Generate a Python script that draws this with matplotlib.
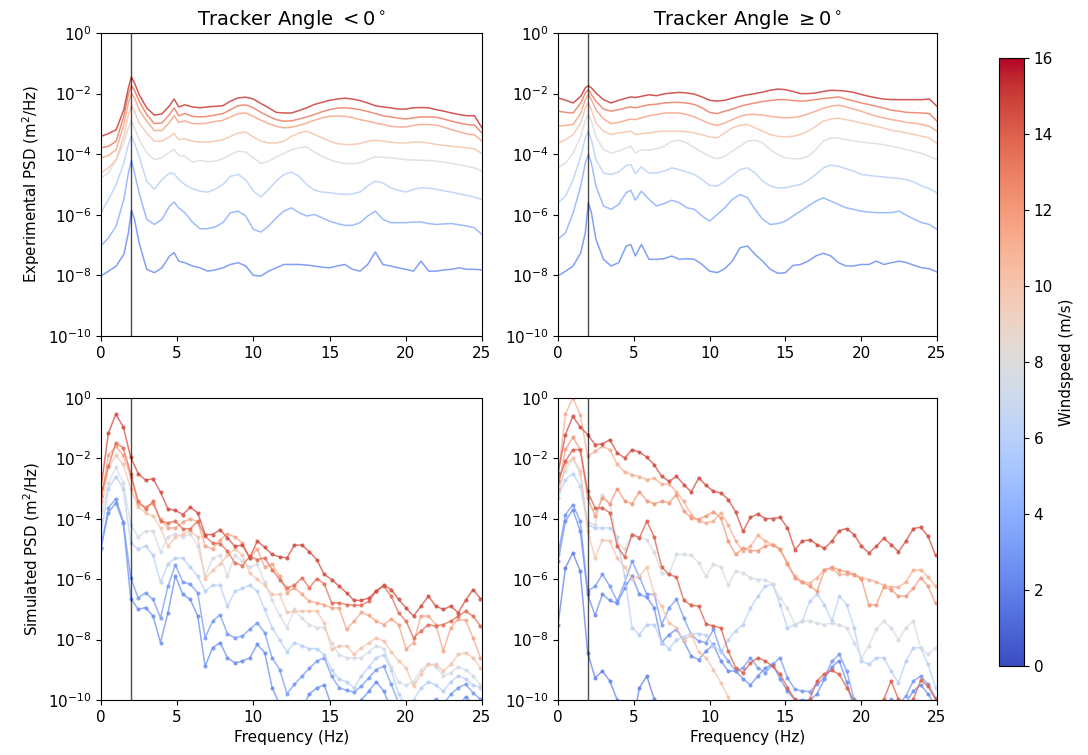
import matplotlib.pyplot as plt
import matplotlib as mpl
import numpy as np

# frequency grids (Hz)
f_exp = [0, 0.5, 1, 1.5, 1.8, 2, 2.2, 2.5, 3, 3.5, 4, 4.5, 4.8, 5.1, 5.5] + list(np.arange(6, 25.5, 0.5))
f_sim = np.arange(52) * 0.48828

# windspeed (m/s) of each curve
ws_exp = [15, 13, 11.5, 10, 8, 6, 4, 2.5]
ws_sim_neg = [14.5, 13.5, 11.5, 10, 7.5, 6, 3, 2.5]
ws_sim_pos = [14.5, 14, 11, 12, 10, 7.5, 6, 3, 2.5, 2]

# experimental PSD, log10(m^2/Hz), tracker angle < 0
exp_neg_15 = [-3.41, -3.32, -3.19, -2.53, -1.81, -1.45, -1.65, -2.03, -2.47, -2.71, -2.67, -2.40, -2.18, -2.44, -2.37,
              -2.44, -2.47, -2.44, -2.42, -2.40, -2.25, -2.14, -2.12, -2.18, -2.33, -2.47, -2.62, -2.64, -2.64, -2.56,
              -2.47, -2.36, -2.29, -2.22, -2.18, -2.15, -2.18, -2.23, -2.31, -2.40, -2.44, -2.47, -2.51, -2.51, -2.47,
              -2.46, -2.47, -2.53, -2.58, -2.64, -2.69, -2.73, -2.73, -3.13]
exp_neg_13 = [-3.79, -3.74, -3.57, -2.75, -2.03, -1.74, -1.89, -2.25, -2.69, -2.99, -2.97, -2.69, -2.47, -2.73, -2.66,
              -2.75, -2.77, -2.75, -2.71, -2.66, -2.53, -2.40, -2.37, -2.47, -2.62, -2.75, -2.86, -2.91, -2.90, -2.84,
              -2.77, -2.69, -2.60, -2.53, -2.48, -2.47, -2.49, -2.53, -2.59, -2.66, -2.73, -2.77, -2.81, -2.84, -2.80,
              -2.77, -2.77, -2.78, -2.84, -2.91, -2.97, -3.02, -3.04, -3.30]
exp_neg_11 = [-4.12, -4.04, -3.85, -3.02, -2.31, -2.01, -2.14, -2.53, -2.91, -3.22, -3.22, -2.95, -2.73, -2.95, -2.90,
              -2.99, -3.00, -2.97, -2.92, -2.88, -2.77, -2.66, -2.64, -2.75, -2.88, -2.99, -3.08, -3.13, -3.11, -3.05,
              -2.97, -2.88, -2.80, -2.75, -2.74, -2.75, -2.79, -2.86, -2.91, -2.97, -3.02, -3.08, -3.10, -3.10, -3.05,
              -3.02, -3.02, -3.04, -3.11, -3.19, -3.26, -3.33, -3.36, -3.57]
exp_neg_10 = [-4.62, -4.45, -4.18, -3.41, -2.69, -2.40, -2.58, -2.97, -3.30, -3.57, -3.57, -3.43, -3.32, -3.52, -3.49,
              -3.57, -3.60, -3.60, -3.57, -3.52, -3.41, -3.30, -3.27, -3.43, -3.57, -3.63, -3.63, -3.57, -3.41, -3.30,
              -3.24, -3.35, -3.46, -3.57, -3.65, -3.68, -3.68, -3.65, -3.57, -3.54, -3.57, -3.60, -3.63, -3.63, -3.60,
              -3.60, -3.63, -3.68, -3.71, -3.74, -3.76, -3.79, -3.82, -3.98]
exp_neg_8 = [-4.78, -4.62, -4.18, -3.63, -3.13, -2.91, -3.13, -3.52, -3.96, -4.18, -4.12, -3.93, -3.85, -4.04, -4.07,
             -4.26, -4.20, -4.25, -4.23, -4.15, -4.01, -3.90, -3.93, -4.12, -4.31, -4.23, -4.09, -3.98, -3.85, -3.79,
             -3.76, -3.93, -4.07, -4.18, -4.26, -4.31, -4.31, -4.29, -4.18, -4.09, -4.10, -4.12, -4.15, -4.18, -4.19,
             -4.20, -4.21, -4.23, -4.26, -4.31, -4.35, -4.40, -4.45, -4.56]
exp_neg_6 = [-5.93, -5.49, -5.00, -4.29, -3.68, -3.41, -3.63, -4.07, -4.89, -5.16, -4.84, -4.62, -4.64, -4.84, -5.00,
             -5.14, -5.22, -5.25, -5.16, -5.00, -4.73, -4.67, -4.84, -5.22, -5.41, -5.16, -4.89, -4.67, -4.59, -4.73,
             -5.00, -5.19, -5.25, -5.27, -5.31, -5.33, -5.31, -5.25, -5.05, -4.89, -4.95, -5.11, -5.19, -5.25, -5.16,
             -5.11, -5.12, -5.16, -5.21, -5.25, -5.31, -5.36, -5.42, -5.49]
exp_neg_4 = [-7.03, -6.76, -6.37, -5.49, -4.62, -4.20, -4.62, -5.27, -6.15, -6.32, -6.15, -5.71, -5.58, -5.77, -5.93,
             -6.24, -6.46, -6.46, -6.40, -6.26, -5.93, -5.88, -6.04, -6.48, -6.57, -6.37, -6.10, -5.88, -5.77, -5.93,
             -6.04, -5.99, -6.10, -6.21, -6.29, -6.35, -6.35, -6.26, -6.04, -5.88, -6.15, -6.26, -6.26, -6.26, -6.24,
             -6.24, -6.29, -6.32, -6.30, -6.29, -6.33, -6.37, -6.43, -6.65]
exp_neg_3 = [-8.02, -7.86, -7.69, -7.31, -6.59, -5.85, -6.15, -6.92, -7.80, -7.91, -7.75, -7.36, -7.25, -7.53, -7.58,
             -7.69, -7.75, -7.86, -7.82, -7.75, -7.64, -7.58, -7.69, -8.00, -8.02, -7.86, -7.75, -7.64, -7.64, -7.64,
             -7.66, -7.69, -7.73, -7.75, -7.69, -7.64, -7.80, -7.86, -7.64, -7.23, -7.64, -7.69, -7.75, -7.80, -7.86,
             -7.53, -7.86, -7.86, -7.82, -7.80, -7.75, -7.80, -7.80, -7.82]

# experimental PSD, log10(m^2/Hz), tracker angle >= 0
exp_pos_15 = [-2.14, -2.22, -2.31, -2.09, -1.81, -1.74, -1.81, -1.98, -2.20, -2.31, -2.22, -2.15, -2.11, -2.13, -2.09,
              -2.04, -2.07, -2.01, -1.98, -1.96, -1.98, -2.02, -2.11, -2.22, -2.25, -2.22, -2.15, -2.09, -2.04, -2.00,
              -1.95, -1.89, -1.85, -1.87, -1.93, -2.00, -2.00, -1.98, -1.93, -1.89, -1.90, -1.92, -1.96, -2.03, -2.09,
              -2.14, -2.18, -2.20, -2.20, -2.20, -2.20, -2.20, -2.18, -2.42]
exp_pos_13 = [-2.58, -2.62, -2.64, -2.31, -1.98, -1.87, -2.03, -2.25, -2.51, -2.58, -2.53, -2.47, -2.44, -2.47, -2.42,
              -2.37, -2.35, -2.31, -2.29, -2.29, -2.31, -2.36, -2.47, -2.62, -2.66, -2.58, -2.51, -2.42, -2.36, -2.31,
              -2.26, -2.23, -2.20, -2.20, -2.23, -2.25, -2.23, -2.20, -2.16, -2.14, -2.11, -2.18, -2.24, -2.31, -2.36,
              -2.42, -2.48, -2.55, -2.58, -2.62, -2.63, -2.64, -2.66, -2.91]
exp_pos_11 = [-3.08, -3.05, -3.02, -2.64, -2.20, -2.03, -2.20, -2.53, -2.84, -2.99, -2.95, -2.88, -2.84, -2.86, -2.80,
              -2.73, -2.69, -2.64, -2.64, -2.64, -2.69, -2.77, -2.88, -2.99, -3.05, -2.97, -2.86, -2.75, -2.69, -2.69,
              -2.71, -2.75, -2.78, -2.80, -2.79, -2.75, -2.67, -2.58, -2.48, -2.42, -2.38, -2.44, -2.51, -2.58, -2.67,
              -2.75, -2.80, -2.86, -2.90, -2.95, -2.98, -3.02, -3.08, -3.24]
exp_pos_10 = [-3.63, -3.52, -3.35, -2.97, -2.47, -2.31, -2.53, -2.97, -3.24, -3.35, -3.30, -3.26, -3.24, -3.35, -3.32,
              -3.30, -3.26, -3.24, -3.24, -3.24, -3.26, -3.30, -3.36, -3.43, -3.46, -3.30, -3.13, -3.05, -3.02, -3.13,
              -3.24, -3.35, -3.41, -3.43, -3.41, -3.35, -3.24, -3.08, -2.91, -2.84, -2.81, -2.86, -2.91, -2.97, -3.02,
              -3.08, -3.14, -3.21, -3.25, -3.30, -3.35, -3.41, -3.46, -3.65]
exp_pos_8 = [-4.45, -4.29, -3.96, -3.41, -2.88, -2.69, -2.91, -3.41, -3.85, -3.96, -3.90, -3.79, -3.74, -3.96, -3.85,
             -3.87, -3.82, -3.74, -3.57, -3.54, -3.63, -3.79, -3.93, -4.07, -4.15, -4.07, -3.90, -3.74, -3.57, -3.54,
             -3.63, -3.85, -4.01, -4.12, -4.15, -4.15, -4.07, -3.85, -3.57, -3.46, -3.47, -3.52, -3.56, -3.60, -3.63,
             -3.65, -3.69, -3.74, -3.79, -3.85, -3.91, -3.98, -4.07, -4.18]
exp_pos_6 = [-5.60, -5.38, -4.84, -4.07, -3.46, -3.24, -3.52, -4.18, -4.62, -4.67, -4.59, -4.37, -4.34, -4.64, -4.42,
             -4.62, -4.62, -4.56, -4.45, -4.51, -4.59, -4.67, -4.84, -5.03, -5.05, -4.89, -4.70, -4.51, -4.45, -4.62,
             -4.89, -5.05, -5.11, -5.11, -5.05, -5.00, -4.86, -4.67, -4.45, -4.36, -4.40, -4.48, -4.56, -4.67, -4.70,
             -4.73, -4.75, -4.78, -4.80, -4.84, -4.92, -5.05, -5.14, -5.27]
exp_pos_4 = [-6.81, -6.59, -5.93, -5.05, -4.29, -4.01, -4.29, -5.05, -5.71, -5.82, -5.66, -5.27, -5.19, -5.52, -5.22,
             -5.49, -5.71, -5.63, -5.52, -5.60, -5.77, -5.82, -6.04, -6.21, -5.99, -5.77, -5.49, -5.33, -5.44, -5.82,
             -6.15, -6.32, -6.29, -6.21, -6.04, -5.88, -5.71, -5.55, -5.44, -5.55, -5.66, -5.77, -5.82, -5.88, -5.91,
             -5.93, -5.93, -5.93, -5.88, -6.02, -6.15, -6.26, -6.32, -6.48]
exp_pos_3 = [-8.02, -7.86, -7.69, -7.25, -6.59, -5.60, -5.93, -6.81, -7.47, -7.69, -7.58, -7.03, -6.98, -7.36, -6.98,
             -7.47, -7.47, -7.45, -7.36, -7.47, -7.45, -7.47, -7.64, -7.86, -7.91, -7.78, -7.53, -7.09, -7.03, -7.31,
             -7.53, -7.80, -7.93, -7.91, -7.67, -7.64, -7.53, -7.36, -7.27, -7.36, -7.58, -7.69, -7.69, -7.64, -7.64,
             -7.53, -7.64, -7.58, -7.53, -7.58, -7.67, -7.75, -7.78, -7.89]

# simulated PSD, log10(m^2/Hz), tracker angle < 0
sim_neg_15 = [-2.98, -1.16, -0.53, -0.96, -1.96, -2.50, -2.72, -2.67, -3.12, -3.67, -3.72, -3.86, -3.62, -3.80,
              -4.52, -4.52, -4.36, -4.63, -4.91, -4.87, -5.29, -4.74, -4.94, -5.18, -5.26, -5.29, -4.87,
              -4.87, -5.09, -5.35, -5.84, -6.01, -6.23, -6.45, -6.70, -6.70, -6.62, -6.39, -6.20, -6.34,
              -6.67, -6.95, -7.22, -6.89, -6.56, -6.89, -7.00, -6.89, -7.11, -6.70, -6.34, -6.64]
sim_neg_13 = [-3.25, -2.26, -1.49, -1.65, -2.50, -3.42, -3.67, -3.42, -4.08, -4.13, -4.08, -4.33, -4.33, -4.08,
              -4.58, -4.80, -4.82, -5.07, -5.46, -5.55, -5.24, -5.35, -5.29, -5.68, -6.01, -6.28, -6.20,
              -5.95, -6.28, -5.98, -6.15, -6.78, -6.78, -6.84, -6.86, -6.86, -6.73, -6.39, -6.23, -6.56,
              -7.11, -7.39, -7.94, -7.72, -7.50, -7.55, -7.50, -7.39, -7.22, -7.06, -7.22, -7.55]
sim_neg_11 = [-3.4, -1.9, -1.6, -1.9, -2.6, -3.5, -3.6, -3.5, -4.0, -4.3, -4.3, -4.1, -4.0, -4.1,
              -4.9, -5.0, -4.7, -4.5, -4.6, -4.8, -5.3, -5.0, -5.6, -5.5, -5.9, -6.45, -6.28,
              -6.5, -6.73, -6.78, -6.84, -6.95, -6.95, -7.66, -7.39, -7.1, -7.2, -7.39, -7.5, -7.33,
              -7.5, -8.32, -8.1, -7.22, -7.22, -7.5, -8.38, -7.6, -7.33, -7.36, -7.94, -8.6]
sim_neg_10 = [-3.7, -2.3, -1.9, -2.2, -3.0, -3.6, -3.8, -3.9, -4.3, -4.9, -4.6, -4.5, -4.4, -4.6,
              -6.0, -5.7, -5.5, -5.2, -5.0, -5.2, -5.8, -6.0, -6.2, -6.5, -6.5, -7.1, -7.06,
              -7.05, -7.05, -7.06, -7.44, -8.32, -8.21, -8.21, -8.49, -8.27, -8.10, -7.94, -8.05, -8.4,
              -8.71, -8.93, -9.54, -9.15, -8.82, -8.82, -9.04, -8.82, -8.49, -8.43, -8.6, -8.93]
sim_neg_7 = [-4.0, -2.8, -2.3, -2.8, -4.2, -4.6, -4.4, -4.4, -5.1, -4.6, -4.5, -4.6, -4.5, -4.9,
             -5.9, -5.3, -5.2, -5.9, -5.2, -5.4, -5.6, -5.5, -6.1, -6.7, -7.2, -7.6, -7.0,
             -7.3, -7.5, -7.6, -7.6, -8.1, -8.5, -8.6, -8.6, -8.6, -8.4, -8.2, -8.3, -8.9,
             -9.4, -9.5, -9.4, -9.0, -8.8, -8.9, -9.2, -9.1, -8.9, -9.0, -9.2, -9.5]
sim_neg_6 = [-4.5, -3.0, -2.6, -3.0, -4.8, -5.0, -4.9, -5.2, -6.1, -5.5, -5.3, -5.3, -5.6, -5.9,
             -6.4, -6.2, -6.2, -6.9, -6.4, -6.3, -6.2, -6.4, -7.0, -7.6, -8.0, -8.4, -8.1,
             -8.2, -8.3, -8.3, -8.5, -9.0, -9.3, -9.4, -9.6, -9.2, -8.9, -8.6, -8.5, -9.0,
             -9.8, -10.2, -10.0, -9.6, -9.4, -9.5, -9.7, -9.4, -9.2, -9.3, -9.5, -9.6]
sim_neg_4 = [-4.96, -3.64, -3.33, -4.10, -5.95, -6.62, -6.45, -6.67, -7.28, -6.23, -5.53, -6.09, -6.17, -6.45,
             -7.94, -7.39, -7.17, -7.81, -7.94, -7.88, -7.66, -7.44, -7.77, -8.60, -8.99, -9.79, -9.48,
             -9.21, -8.95, -8.71, -8.60, -9.21, -9.59, -9.68, -9.74, -9.54, -9.26, -8.99, -8.88, -9.48,
             -10.09, -10.47, -10.7, -10.5, -10.14, -9.98, -10.14, -9.81, -9.59, -9.48, -9.76, -9.98]
sim_neg_3 = [-4.96, -3.80, -3.47, -4.13, -6.64, -6.99, -6.94, -7.22, -8.10, -7.11, -5.90, -6.50, -6.67, -7.22,
             -8.88, -8.27, -8.10, -8.60, -8.77, -8.71, -8.60, -8.16, -8.43, -9.59, -10.14, -10.47, -10.6,
             -10.3, -9.8, -9.6, -9.5, -10.2, -10.6, -10.8, -10.5, -10.0, -9.7, -9.4, -9.7, -10.3,
             -11.0, -11.2, -11.0, -10.6, -10.3, -10.5, -10.8, -10.6, -10.2, -9.9, -10.1, -10.4]

# simulated PSD, log10(m^2/Hz), tracker angle >= 0
sim_pos_15 = [-2.48, -1.21, -0.61, -0.96, -1.21, -1.54, -1.52, -1.38, -1.82, -1.98, -1.71, -1.79, -1.96, -2.21,
              -2.59, -2.76, -2.59, -2.87, -3.11, -2.65, -2.89, -3.09, -3.14, -3.36, -3.77, -4.41, -3.95,
              -3.84, -3.99, -3.99, -3.95, -4.30, -5.02, -4.74, -4.69, -4.85, -4.98, -4.74, -4.39, -4.32,
              -4.52, -4.91, -5.13, -4.91, -4.65, -4.85, -5.09, -4.74, -4.32, -4.28, -4.58, -5.21]
sim_pos_14 = [-2.76, -2.09, -1.71, -1.71, -3.09, -3.64, -3.64, -3.80, -4.91, -5.26, -4.52, -4.63, -4.08, -4.61,
              -5.60, -5.84, -5.93, -6.70, -6.86, -6.89, -7.48, -7.55, -7.61, -8.38, -8.93, -9.10, -8.77,
              -8.6, -8.71, -8.88, -9.15, -9.59, -9.98, -10.4, -9.98, -9.37, -9.13, -9.02, -9.15, -9.59,
              -10.03, -10.5, -10.8, -10.4, -9.98, -9.37, -9.98, -10.3, -9.98, -9.35, -9.54, -9.98]
sim_pos_11 = [-2.6, -0.53, 0.0, -0.55, -1.93, -1.77, -1.6, -1.71, -2.2, -2.45, -2.54, -2.6, -2.7, -2.65,
              -2.85, -2.85, -3.1, -3.42, -3.86, -4.08, -4.13, -4.08, -3.80, -4.2, -4.74, -5.07, -4.91,
              -4.54, -4.74, -4.85, -5.02, -5.46, -5.90, -6.09, -6.12, -5.95, -5.68, -5.65, -5.84, -5.84,
              -5.84, -5.95, -6.01, -6.09, -6.20, -6.26, -6.26, -6.09, -5.70, -5.68, -5.93, -6.23]
sim_pos_12 = [-3.0, -1.7, -1.3, -1.7, -3.3, -3.9, -3.3, -3.5, -3.0, -3.4, -3.5, -3.1, -3.4, -3.5,
              -3.42, -3.47, -3.2, -3.75, -3.97, -4.02, -3.9, -3.77, -3.97, -4.74, -5.18, -4.96, -5.05,
              -5.05, -4.9, -4.85, -5.0, -5.5, -5.95, -6.1, -6.22, -6.4, -5.7, -5.6, -5.7, -5.75,
              -5.85, -6.0, -6.85, -6.85, -6.26, -6.34, -6.56, -6.56, -6.3, -5.95, -6.23, -6.8]
sim_pos_10 = [-3.3, -2.2, -2.0, -2.4, -4.4, -5.29, -4.69, -4.75, -5.3, -5.6, -6.0, -5.9, -5.6, -6.5,
              -6.9, -7.45, -7.6, -8.05, -7.83, -8.4, -8.6, -9.0, -9.43, -9.9, -10.4, -10.9, -11.2,
              -11.0, -11.3, -11.5, -11.2, -11.0, -11.3, -11.4, -11.1, -11.2, -11.5, -11.3, -11.0, -11.2,
              -11.4, -11.3, -11.1, -11.2, -11.5, -11.3, -11.0, -11.2, -11.4, -11.3, -11.1, -11.2]
sim_pos_7 = [-3.0, -2.4, -2.0, -2.5, -4.1, -4.2, -3.2, -3.5, -4.8, -5.0, -4.5, -4.6, -4.7, -5.1,
             -5.8, -5.84, -5.18, -5.18, -5.2, -5.45, -5.9, -5.5, -5.6, -6.2, -5.73, -5.79, -5.95,
             -6.01, -6.01, -6.17, -6.62, -6.95, -7.5, -7.39, -7.39, -7.45, -7.5, -7.45, -7.5, -7.61,
             -8.1, -8.6, -8.2, -7.66, -7.39, -7.61, -8.0, -7.61, -7.39, -8.27, -8.49, -8.27]
sim_pos_6 = [-3.3, -2.7, -2.5, -2.9, -4.2, -4.3, -4.3, -4.3, -4.6, -5.9, -7.6, -7.83, -7.5, -7.5,
             -8.1, -8.3, -8.0, -7.9, -7.8, -7.8, -7.85, -8.2, -8.4, -8.0, -7.7, -7.5, -6.95,
             -6.56, -6.23, -6.17, -6.84, -7.61, -7.5, -7.39, -6.73, -6.50, -6.84, -7.39, -6.56, -6.84,
             -7.61, -8.71, -8.82, -8.6, -8.6, -9.04, -9.43, -8.71, -8.27, -8.27, -8.82, -9.59]
sim_pos_4 = [-5.18, -3.86, -3.53, -4.08, -6.39, -6.23, -5.84, -6.23, -6.73, -6.12, -5.40, -5.93, -6.50, -6.50,
             -7.5, -6.95, -6.67, -7.28, -7.83, -8.05, -8.10, -7.66, -8.38, -8.71, -9.04, -8.93, -8.6,
             -8.93, -9.10, -8.82, -8.6, -9.26, -9.65, -9.70, -9.72, -9.48, -9.26, -8.71, -8.49, -9.04,
             -9.98, -10.5, -10.8, -10.6, -10.2, -9.98, -10.14, -9.87, -9.37, -9.21, -9.48, -9.92]
sim_pos_3b = [-5.4, -4.08, -3.7, -4.4, -6.5, -7.2, -6.5, -6.7, -6.8, -6.3, -5.9, -6.5, -6.6, -6.95,
              -8.1, -7.83, -7.66, -8.05, -8.55, -8.66, -8.38, -8.16, -8.71, -9.04, -9.04, -9.3, -9.5,
              -9.2, -8.95, -8.8, -9.3, -9.7, -10.0, -10.0, -10.0, -9.8, -9.3, -8.9, -8.7, -9.4,
              -10.3, -10.8, -11.0, -11.0, -10.6, -10.3, -10.5, -10.1, -9.7, -9.5, -9.8, -10.2]
sim_pos_3 = [-7.5, -5.62, -5.13, -5.73, -8.43, -9.26, -9.04, -9.37, -10.0, -10.5, -10.9, -9.59, -9.21, -9.98,
             -10.6, -11.0, -11.2, -11.3, -11.1, -10.9, -11.2, -11.4, -11.2, -11.0, -11.3, -11.5, -11.2,
             -11.0, -10.8, -11.1, -11.4, -11.2, -10.9, -10.7, -10.9, -11.2, -11.0, -10.6, -10.4, -10.8,
             -11.2, -11.5, -11.3, -11.0, -10.8, -11.1, -11.4, -11.2, -10.9, -10.8, -11.1, -11.3]

exp_neg = [exp_neg_15, exp_neg_13, exp_neg_11, exp_neg_10, exp_neg_8, exp_neg_6, exp_neg_4, exp_neg_3]
exp_pos = [exp_pos_15, exp_pos_13, exp_pos_11, exp_pos_10, exp_pos_8, exp_pos_6, exp_pos_4, exp_pos_3]
sim_neg = [sim_neg_15, sim_neg_13, sim_neg_11, sim_neg_10, sim_neg_7, sim_neg_6, sim_neg_4, sim_neg_3]
sim_pos = [sim_pos_15, sim_pos_14, sim_pos_11, sim_pos_12, sim_pos_10, sim_pos_7, sim_pos_6, sim_pos_4,
           sim_pos_3b, sim_pos_3]

cmap = plt.cm.coolwarm
norm = mpl.colors.Normalize(vmin=0, vmax=16)

fig = plt.figure(figsize=(10.88, 7.55), dpi=100)
ax_tl = fig.add_axes([0.0928, 0.555, 0.3502, 0.4013])
ax_tr = fig.add_axes([0.5129, 0.555, 0.3483, 0.4013])
ax_bl = fig.add_axes([0.0928, 0.0728, 0.3502, 0.4])
ax_br = fig.add_axes([0.5129, 0.0728, 0.3483, 0.4])


def draw(ax, f, curves, speeds, sim):
    # low windspeeds first so the red curves sit on top
    for vals, ws in sorted(zip(curves, speeds), key=lambda c: c[1]):
        psd = 10.0 ** np.array(vals)
        if sim:
            ax.plot(f, psd, '.-', color=cmap(norm(ws)), lw=1.1, ms=4, alpha=0.75)
        else:
            ax.plot(f, psd, '-', color=cmap(norm(ws)), lw=1.1, alpha=0.85)
    ax.axvline(2, color='k', lw=1.0, alpha=0.7)
    ax.set_yscale('log')
    ax.set_ylim(1e-10, 1)
    ax.set_xlim(0, 25)
    ax.set_yticks([1e-10, 1e-8, 1e-6, 1e-4, 1e-2, 1])
    ax.yaxis.set_minor_locator(mpl.ticker.NullLocator())
    ax.set_xticks([0, 5, 10, 15, 20, 25])
    ax.tick_params(labelsize=11)


draw(ax_tl, f_exp, exp_neg, ws_exp, False)
draw(ax_tr, f_exp, exp_pos, ws_exp, False)
draw(ax_bl, f_sim, sim_neg, ws_sim_neg, True)
draw(ax_br, f_sim, sim_pos, ws_sim_pos, True)

ax_tl.set_title(r'Tracker Angle $<0^\circ$', fontsize=14)
ax_tr.set_title(r'Tracker Angle $\geq 0^\circ$', fontsize=14)
ax_tl.set_ylabel('Experimental PSD (m$^2$/Hz)', fontsize=10.8)
ax_bl.set_ylabel('Simulated PSD (m$^2$/Hz)', fontsize=10.8)
ax_bl.set_xlabel('Frequency (Hz)', fontsize=11)
ax_br.set_xlabel('Frequency (Hz)', fontsize=11)

cax = fig.add_axes([0.9182, 0.1179, 0.023, 0.8053])
sm = mpl.cm.ScalarMappable(norm=norm, cmap=cmap)
cb = fig.colorbar(sm, cax=cax, ticks=range(0, 17, 2))
cb.set_label('Windspeed (m/s)', fontsize=10.8)
cb.ax.tick_params(labelsize=11)

fig.savefig('out.png', dpi=100)
